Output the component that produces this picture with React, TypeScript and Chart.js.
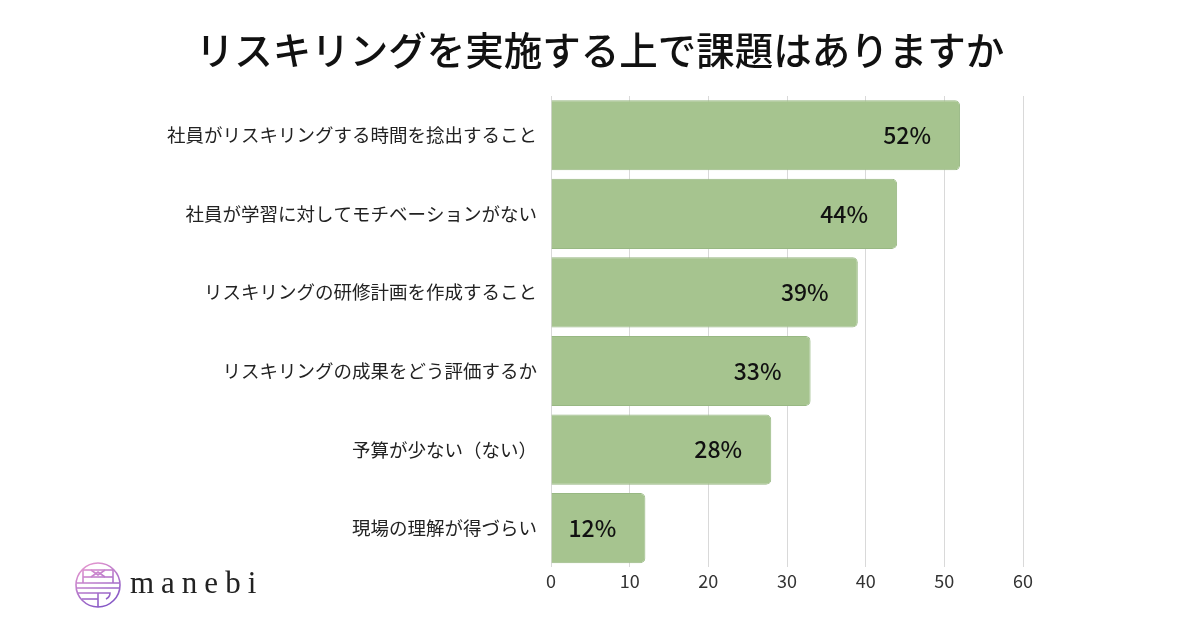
import React, { useEffect, useRef } from "react";
import { Chart, registerables } from "chart.js";

Chart.register(...registerables);

const TITLE = "リスキリングを実施する上で課題はありますか";
const CATEGORIES = [
  "社員がリスキリングする時間を捻出すること",
  "社員が学習に対してモチベーションがない",
  "リスキリングの研修計画を作成すること",
  "リスキリングの成果をどう評価するか",
  "予算が少ない（ない）",
  "現場の理解が得づらい",
];
const VALUES = [52, 44, 39, 33, 28, 12];
const X_TICKS = [0, 10, 20, 30, 40, 50, 60];

const FONT = "'Noto Sans CJK JP', 'Noto Sans', sans-serif";

const valueLabels = {
  id: "valueLabels",
  afterDatasetsDraw(chart: any) {
    const ctx = chart.ctx;
    const meta = chart.getDatasetMeta(0);
    ctx.save();
    ctx.fillStyle = "#111";
    ctx.font = `500 23px ${FONT}`;
    ctx.textAlign = "center";
    ctx.textBaseline = "middle";
    meta.data.forEach((bar: any, i: number) => {
      ctx.fillText(`${VALUES[i]}%`, bar.x - 53, bar.y);
    });
    ctx.restore();
  },
};

function Logo() {
  return (
    <div style={{ position: "absolute", left: 74, top: 561, display: "flex", alignItems: "center" }}>
      <svg width="48" height="48" viewBox="0 0 48 48">
        <defs>
          <linearGradient id="lg" gradientUnits="userSpaceOnUse" x1="8" y1="2" x2="30" y2="46">
            <stop offset="0" stopColor="#e99ad0" />
            <stop offset="1" stopColor="#8558c6" />
          </linearGradient>
        </defs>
        <g fill="none" stroke="url(#lg)" strokeWidth="1.6">
          <circle cx="24" cy="24" r="22" />
          <line x1="9" y1="8" x2="9" y2="22" />
          <line x1="39" y1="8" x2="39" y2="22" />
          <line x1="9" y1="9" x2="39" y2="9" />
          <line x1="9" y1="16" x2="39" y2="16" />
          <line x1="3" y1="22" x2="45" y2="22" />
          <line x1="3" y1="27" x2="45" y2="27" />
          <path d="M17 9 L24 14 L31 9" />
          <path d="M17 16 L24 11 L31 16" />
          <path d="M4 32 L36 32 Q36 36 32 38" />
          <line x1="24" y1="32" x2="24" y2="46" />
          <line x1="8" y1="38" x2="24" y2="38" />
        </g>
      </svg>
      <span
        style={{
          fontFamily: "'Liberation Serif', 'DejaVu Serif', serif",
          fontSize: 31,
          letterSpacing: 7,
          color: "#222",
          marginLeft: 8,
          marginTop: -4,
        }}
      >
        manebi
      </span>
    </div>
  );
}

export default function App() {
  const ref = useRef<HTMLCanvasElement>(null);
  useEffect(() => {
    if (!ref.current) return;
    const chart = new Chart(ref.current, {
      type: "bar",
      data: {
        labels: CATEGORIES,
        datasets: [
          {
            data: VALUES,
            backgroundColor: "#a6c48f",
            borderColor: "#98b883",
            borderWidth: 1,
            borderRadius: 5,
            borderSkipped: "start",
            barPercentage: 0.94,
            categoryPercentage: 0.95,
          },
        ],
      },
      options: {
        indexAxis: "y",
        animation: false,
        responsive: false,
        devicePixelRatio: 1,
        layout: { padding: { left: 0, right: 177, top: 96, bottom: 35 } },
        plugins: {
          legend: { display: false },
          tooltip: { enabled: false },
          title: { display: false },
        },
        scales: {
          x: {
            min: 0,
            max: 60,
            afterBuildTicks: (s: any) => {
              s.ticks = X_TICKS.map((v) => ({ value: v }));
            },
            grid: { color: "#d9d9d9", drawTicks: false, lineWidth: 1 },
            border: { display: false },
            ticks: {
              color: "#333",
              padding: 3,
              font: { family: FONT, size: 18 },
            },
          },
          y: {
            afterFit: (s: any) => {
              s.width = 551;
            },
            grid: { display: false, drawTicks: false },
            border: { display: false },
            ticks: {
              color: "#222",
              padding: 14,
              font: { family: FONT, size: 18.5 },
            },
          },
        },
      },
      plugins: [valueLabels],
    });
    return () => chart.destroy();
  }, []);
  return (
    <div style={{ position: "absolute", left: 0, top: 0, width: 1200, height: 630, background: "#fff" }}>
      <canvas ref={ref} width={1200} height={630} style={{ position: "absolute", left: 0, top: 0 }} />
      <div
        style={{
          position: "absolute",
          left: 0,
          top: 24,
          width: 1200,
          textAlign: "center",
          fontFamily: FONT,
          fontSize: 38.5,
          fontWeight: 500,
          lineHeight: "48px",
          color: "#111",
        }}
      >
        {TITLE}
      </div>
      <Logo />
    </div>
  );
}
